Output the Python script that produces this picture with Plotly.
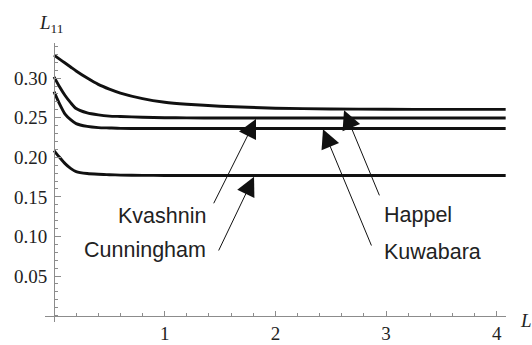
import plotly.graph_objects as go

# ---- data ----
x_vals = [0, 0.05, 0.1, 0.15, 0.2, 0.3, 0.4, 0.5, 0.6, 0.8, 1.0, 1.2, 1.5, 2.0, 2.5, 3.0, 3.5, 4.08]
happel = [0.329, 0.324, 0.319, 0.314, 0.309, 0.300, 0.292, 0.286, 0.281, 0.274, 0.2695, 0.267,
          0.2645, 0.262, 0.261, 0.2606, 0.2605, 0.2605]
kvashnin = [0.3015, 0.289, 0.278, 0.269, 0.2615, 0.256, 0.2535, 0.252, 0.2515, 0.2505, 0.250,
            0.2497, 0.2496, 0.2496, 0.2496, 0.2496, 0.2496, 0.2496]
kuwabara = [0.283, 0.2675, 0.2545, 0.2475, 0.2425, 0.239, 0.2375, 0.237, 0.2365, 0.2364, 0.2364,
            0.2364, 0.2364, 0.2364, 0.2364, 0.2364, 0.2364, 0.2364]
cunningham = [0.2085, 0.200, 0.192, 0.186, 0.182, 0.1795, 0.1785, 0.178, 0.1775, 0.1772, 0.177,
              0.177, 0.177, 0.177, 0.177, 0.177, 0.177, 0.177]

series_names = ["Happel", "Kvashnin", "Kuwabara", "Cunningham"]
series_values = [happel, kvashnin, kuwabara, cunningham]

x_tick_vals = [1, 2, 3, 4]
x_tick_text = ["1", "2", "3", "4"]
y_tick_vals = [0.05, 0.10, 0.15, 0.20, 0.25, 0.30]
y_tick_text = ["0.05", "0.10", "0.15", "0.20", "0.25", "0.30"]

# label anchor (text), arrow tail and arrow head positions in data coords
labels = {
    "Kvashnin":   dict(tx=1.39, ty=0.126, anchor="right", tail=(1.436, 0.140), head=(1.825, 0.2485)),
    "Cunningham": dict(tx=1.39, ty=0.083, anchor="right", tail=(1.481, 0.0804), head=(1.807, 0.1755)),
    "Happel":     dict(tx=2.965, ty=0.127, anchor="left", tail=(2.945, 0.150), head=(2.62, 0.2595)),
    "Kuwabara":   dict(tx=2.965, ty=0.0804, anchor="left", tail=(2.873, 0.0867), head=(2.43, 0.2355)),
}

W, H = 532, 345
ml, mr, mt, mb = 45, 26, 43, 23
x_range = [-0.0813, 4.083]
y_range = [-0.008, 0.3443]

fig = go.Figure()
for name, vals in zip(series_names, series_values):
    fig.add_trace(go.Scatter(x=x_vals, y=vals, mode="lines", name=name,
                             line=dict(color="#111111", width=2.9, shape="spline", smoothing=0.6),
                             showlegend=False, hoverinfo="skip"))

axis_color = "#8c8c8c"
serif = "Liberation Serif"
tick_font = dict(family=serif, size=19, color="#222222")

x0_frac = (0 - y_range[0]) / (y_range[1] - y_range[0])
y0_frac = (0 - x_range[0]) / (x_range[1] - x_range[0])

fig.update_layout(
    width=W, height=H,
    font=dict(family=serif),
    margin=dict(l=ml, r=mr, t=mt, b=mb, autoexpand=False),
    paper_bgcolor="white", plot_bgcolor="white",
    xaxis=dict(range=x_range, anchor="free", position=x0_frac, automargin=False,
               showgrid=False, zeroline=False, showline=True, linecolor=axis_color, linewidth=1,
               tickvals=x_tick_vals, ticktext=x_tick_text, ticks="inside", ticklen=5,
               tickcolor=axis_color, tickfont=tick_font, ticklabelstandoff=1,
               minor=dict(dtick=0.2, tick0=0, ticks="inside", ticklen=3, tickcolor=axis_color, showgrid=False)),
    yaxis=dict(range=y_range, anchor="free", position=y0_frac, automargin=False,
               showgrid=False, zeroline=False, showline=True, linecolor=axis_color, linewidth=1,
               tickvals=y_tick_vals, ticktext=y_tick_text, ticks="inside", ticklen=6,
               tickcolor=axis_color, tickfont=tick_font, ticklabelstandoff=3,
               minor=dict(dtick=0.01, tick0=0, ticks="inside", ticklen=3, tickcolor=axis_color, showgrid=False)),
)

label_font = dict(family="Liberation Sans", size=21.5, color="#222222")
for name, d in labels.items():
    fig.add_annotation(x=d["tx"], y=d["ty"], xref="x", yref="y", text=name, showarrow=False,
                       xanchor=d["anchor"], yanchor="middle", font=label_font)
    fig.add_annotation(x=d["head"][0], y=d["head"][1], xref="x", yref="y",
                       ax=d["tail"][0], ay=d["tail"][1], axref="x", ayref="y",
                       text="", showarrow=True, arrowhead=2, arrowsize=3.8, arrowwidth=1,
                       arrowcolor="#111111", standoff=0, startstandoff=0)

# axis titles (paper coordinates, outside the plotting ranges)
title_font = dict(family=serif, size=19, color="#222222")
fig.add_annotation(x=(51 - ml) / (W - ml - mr), y=(H - mb - 24) / (H - mt - mb), xref="paper", yref="paper",
                   text="<i>L</i><sub>11</sub>", showarrow=False, xanchor="center", yanchor="middle",
                   font=title_font)
fig.add_annotation(x=(518 - ml) / (W - ml - mr), y=(H - mb - 320) / (H - mt - mb), xref="paper", yref="paper",
                   text="<i>L</i>", showarrow=False, xanchor="left", yanchor="middle",
                   font=title_font)

fig.write_html("out.html")
